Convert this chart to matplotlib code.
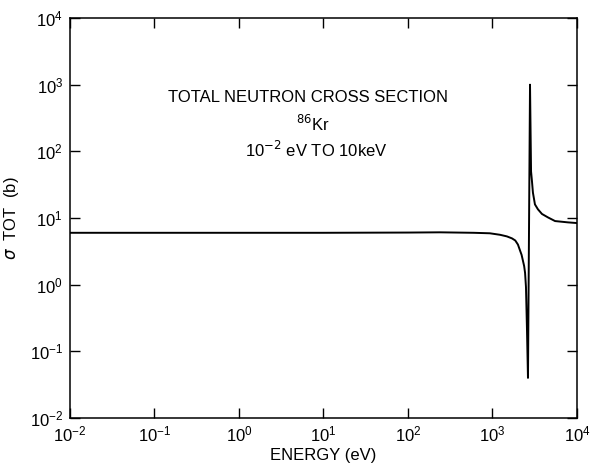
import numpy as np
import matplotlib
matplotlib.use("Agg")
import matplotlib.pyplot as plt

# total cross section of Kr-86, read point by point (energy in eV, sigma in barns)
energy = [1e-2, 1e-1, 1e0, 1e1, 1e2, 239, 600, 930, 1230, 1480, 1700, 1860, 2000,
          2110, 2210, 2290, 2370, 2430, 2490, 2560, 2630, 2780, 2860, 2930,
          3010, 3180, 3450, 3850, 4540, 5500, 7820, 1e4]
sigma = [6.0, 6.0, 6.0, 6.0, 6.05, 6.1, 6.0, 5.9, 5.6, 5.3, 4.95, 4.6, 4.0,
         3.3, 2.8, 2.3, 1.9, 1.5, 0.92, 0.21, 0.04, 1000, 50, 36,
         24, 16, 13.5, 11.5, 10.2, 9.0, 8.6, 8.4]

decades = [1e-2, 1e-1, 1e0, 1e1, 1e2, 1e3, 1e4]

plt.rcParams['font.family'] = ['Liberation Sans', 'DejaVu Sans']

fig = plt.figure(figsize=(5.91, 4.76), dpi=100)
ax = fig.add_axes([0.1184, 0.1218, 0.8579, 0.8404])

ax.plot(energy, sigma, color='black', lw=1.4)

ax.set_xscale('log')
ax.set_yscale('log')
ax.set_xlim(1e-2, 1e4)
ax.set_ylim(1e-2, 1e4)
ax.set_xticks(decades)
ax.set_yticks(decades)
ax.minorticks_off()
ax.tick_params(direction='in', length=7, width=1, top=True, right=True,
               labelsize=12, pad=5)
for s in ax.spines.values():
    s.set_linewidth(1.1)

ax.set_xlabel('ENERGY (eV)', fontsize=12, labelpad=2)
ax.set_ylabel(r'$\sigma$  TOT  (b)', fontsize=12, labelpad=6)

ax.text(0.47, 0.80, 'TOTAL NEUTRON CROSS SECTION', transform=ax.transAxes,
        ha='center', va='center', fontsize=12)
ax.text(0.48, 0.735, r'$^{86}$Kr', transform=ax.transAxes,
        ha='center', va='center', fontsize=12)
ax.text(0.485, 0.67, r'10$^{-2}$ eV TO 10keV', transform=ax.transAxes,
        ha='center', va='center', fontsize=12)

fig.savefig('out.png', dpi=100)
